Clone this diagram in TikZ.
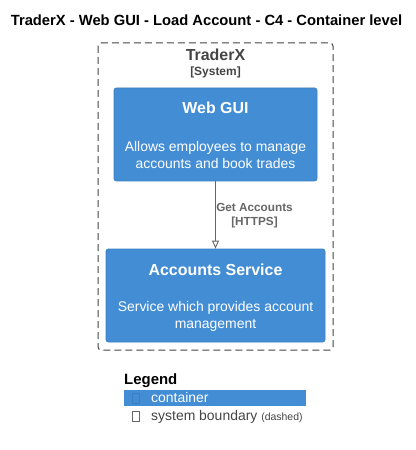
\documentclass[tikz,border=0pt]{standalone}
\usepackage{fontspec}
\setmainfont{Liberation Sans}
\usetikzlibrary{arrows.meta}
\definecolor{cfill}{HTML}{438DD5}
\definecolor{cline}{HTML}{3C7FC0}
\definecolor{bline}{HTML}{444444}
\definecolor{lbl}{HTML}{666666}
\tikzset{
  container/.style={draw=cline, fill=cfill, rounded corners=2.5bp, line width=0.8bp, inner sep=0pt},
  ctitle/.style={text=white, font=\bfseries\fontsize{16}{18}\selectfont, inner sep=0pt},
  cdesc/.style={text=white, font=\fontsize{14}{17}\selectfont, align=center, inner sep=0pt},
  boundary/.style={draw=bline, dash pattern=on 7bp off 4bp, rounded corners=3bp, line width=1bp},
  rel/.style={draw=lbl, line width=0.9bp, -{Triangle[open,length=8bp,width=7bp]}},
  rellbl/.style={text=lbl, font=\bfseries\fontsize{11.8}{14}\selectfont, align=center, inner sep=0pt},
}
\begin{document}
\begin{tikzpicture}[x=1bp,y=-1bp]
\useasboundingbox (0,0) rectangle (415,450);
\node[font=\bfseries\fontsize{14.8}{17}\selectfont, inner sep=0pt] (title) at (206.5,20) {TraderX - Web GUI - Load Account - C4 - Container level};
% boundary
\draw[boundary] (98,43) rectangle (333,350);
\node[text=bline, font=\bfseries\fontsize{16}{18}\selectfont, inner sep=0pt] (bname) at (215.5,55) {TraderX};
\node[text=bline, font=\bfseries\fontsize{12}{14}\selectfont, inner sep=0pt] (btype) at (215.5,72.5) {[System]};
% Web GUI
\node[container, minimum width=203bp, minimum height=93bp] (web) at (215.5,134.5) {};
\node[ctitle] (webt) at (215.5,108) {Web GUI};
\node[cdesc] (webd) at (215.5,155) {Allows employees to manage\\accounts and book trades};
% Accounts Service
\node[container, minimum width=219bp, minimum height=93bp] (acc) at (215.5,295.5) {};
\node[ctitle] (acct) at (215.5,270) {Accounts Service};
\node[cdesc] (accd) at (215.5,316) {Service which provides account\\management};
% relation
\draw[rel] (web.south) -- (acc.north);
\node[rellbl] (rl) at (254.5,216) {Get Accounts\\{}[HTTPS]};
% legend
\node[anchor=west, font=\bfseries\fontsize{15}{17}\selectfont, inner sep=0pt] (leg) at (124,381) {Legend};
\node[fill=cfill, minimum width=182bp, minimum height=16bp, inner sep=0pt] (legc) at (215,398) {};
\draw[draw=cline, line width=0.6bp] (132,393) rectangle (139,403);
\node[anchor=west, text=white, font=\fontsize{14}{16}\selectfont, inner sep=0pt] (legct) at (151,398) {container};
\draw[draw=lbl, line width=0.6bp] (132,411) rectangle (139,421);
\node[anchor=base west, text=bline, font=\fontsize{14}{16}\selectfont, inner sep=0pt] (legbt) at (151,420.5) {system boundary \fontsize{10.5}{12}\selectfont(dashed)};
\end{tikzpicture}
\end{document}
